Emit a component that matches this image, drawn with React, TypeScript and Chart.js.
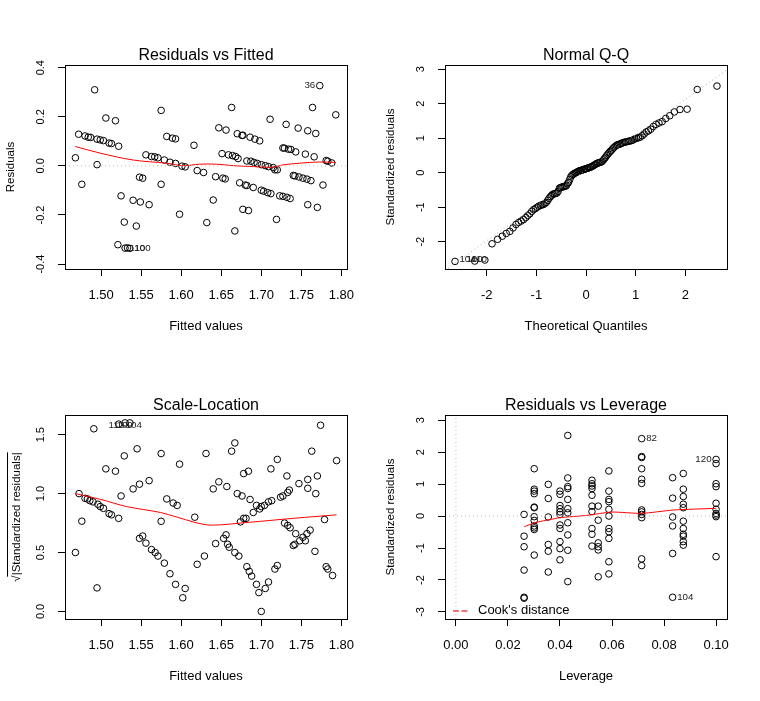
import React, { useEffect, useRef } from "react";
import { Chart, registerables } from "chart.js";

Chart.register(...registerables);

const FONT = '"Liberation Sans", Arial, Helvetica, sans-serif';
Chart.defaults.font.family = FONT;
Chart.defaults.color = "#000";

// ---------- Panel 1: Residuals vs Fitted ----------
const fitted1 = [1.468, 1.472, 1.476, 1.48, 1.484, 1.487, 1.492, 1.495, 1.495, 1.499, 1.503, 1.506, 1.51, 1.513, 1.518, 1.522, 1.521, 1.525, 1.529, 1.53, 1.536, 1.533, 1.54, 1.544, 1.548, 1.549, 1.552, 1.556, 1.56, 1.563, 1.567, 1.571, 1.575, 1.575, 1.579, 1.582, 1.586, 1.589, 1.593, 1.593, 1.598, 1.601, 1.605, 1.616, 1.62, 1.628, 1.632, 1.64, 1.643, 1.647, 1.652, 1.655, 1.651, 1.656, 1.659, 1.663, 1.664, 1.667, 1.668, 1.67, 1.671, 1.673, 1.676, 1.677, 1.677, 1.68, 1.682, 1.684, 1.682, 1.686, 1.687, 1.69, 1.691, 1.692, 1.695, 1.698, 1.7, 1.7, 1.703, 1.705, 1.708, 1.709, 1.711, 1.712, 1.715, 1.719, 1.717, 1.72, 1.723, 1.727, 1.727, 1.729, 1.732, 1.731, 1.734, 1.736, 1.737, 1.74, 1.742, 1.743, 1.746, 1.747, 1.752, 1.755, 1.757, 1.758, 1.758, 1.762, 1.764, 1.766, 1.768, 1.77, 1.773, 1.777, 1.781, 1.783, 1.788, 1.793];
const resid1 = [0.033, 0.129, -0.075, 0.122, 0.117, 0.116, 0.31, 0.109, 0.005, 0.106, 0.103, 0.195, 0.093, 0.091, 0.184, 0.08, -0.321, -0.122, -0.229, -0.335, -0.336, -0.334, -0.14, -0.245, -0.046, -0.147, -0.05, 0.045, -0.158, 0.038, 0.037, 0.033, 0.226, -0.075, 0.024, 0.12, 0.015, 0.113, 0.11, 0.01, -0.197, -0.001, -0.004, 0.084, -0.019, -0.027, -0.231, -0.139, -0.044, 0.155, -0.05, -0.053, 0.05, 0.146, 0.045, 0.238, 0.042, -0.265, 0.038, 0.131, 0.03, -0.069, 0.124, 0.125, -0.177, -0.078, 0.02, -0.182, -0.08, 0.117, 0.019, -0.088, 0.014, 0.109, 0.01, 0.102, -0.099, 0.005, -0.103, 0.001, -0.109, -0.003, 0.19, -0.113, -0.007, -0.218, -0.016, -0.016, -0.122, 0.073, -0.124, 0.072, -0.128, 0.169, 0.068, -0.133, 0.067, -0.039, -0.041, 0.057, 0.154, -0.045, -0.05, 0.048, -0.054, -0.158, 0.143, -0.06, 0.238, 0.037, 0.132, -0.169, 0.327, -0.078, 0.022, 0.019, 0.012, 0.208];
const smoothFit1 = [1.468, 1.499, 1.54, 1.582, 1.603, 1.623, 1.644, 1.665, 1.69, 1.715, 1.727, 1.748, 1.773, 1.793];
const smoothRes1 = [0.079, 0.052, 0.024, 0.011, 0.001, 0.007, 0.007, 0.001, -0.003, -0.005, 0.004, 0.011, 0.016, 0.014];
const zeroLineFit1 = [1.455, 1.807];
const zeroLineRes1 = [0, 0];
const labelText1 = ["36", "110", "100"];
const labelX1 = [1.773, 1.53, 1.536];
const labelY1 = [0.327, -0.335, -0.336];
const labelSide1 = ["left", "right", "right"];

const fittedTicks = [1.5, 1.55, 1.6, 1.65, 1.7, 1.75, 1.8];
const fittedTickLabels = ["1.50", "1.55", "1.60", "1.65", "1.70", "1.75", "1.80"];
const residTicks = [-0.4, -0.2, 0, 0.2, 0.4];
const residTickLabels = ["-0.4", "-0.2", "0.0", "0.2", "0.4"];

// ---------- Panel 2: Normal Q-Q ----------
const theoQuant = [-2.638, -2.241, -2.037, -1.893, -1.78, -1.687, -1.606, -1.534, -1.47, -1.41, -1.356, -1.306, -1.258, -1.213, -1.171, -1.131, -1.092, -1.055, -1.019, -0.984, -0.951, -0.918, -0.887, -0.856, -0.827, -0.798, -0.769, -0.742, -0.714, -0.688, -0.662, -0.636, -0.611, -0.586, -0.561, -0.536, -0.512, -0.489, -0.465, -0.442, -0.419, -0.396, -0.374, -0.351, -0.329, -0.307, -0.285, -0.264, -0.242, -0.221, -0.199, -0.178, -0.157, -0.136, -0.115, -0.094, -0.073, -0.052, -0.031, -0.01, 0.01, 0.031, 0.052, 0.073, 0.094, 0.115, 0.136, 0.157, 0.178, 0.199, 0.221, 0.242, 0.264, 0.285, 0.307, 0.329, 0.351, 0.374, 0.396, 0.419, 0.442, 0.465, 0.489, 0.512, 0.536, 0.561, 0.586, 0.611, 0.636, 0.662, 0.688, 0.714, 0.742, 0.769, 0.798, 0.827, 0.856, 0.887, 0.918, 0.951, 0.984, 1.019, 1.055, 1.092, 1.131, 1.171, 1.213, 1.258, 1.306, 1.356, 1.41, 1.47, 1.534, 1.606, 1.687, 1.78, 1.893, 2.037, 2.241, 2.638];
const stdResSorted = [
  -2.57, -2.56, -2.53, -2.06, -1.93, -1.84, -1.76, -1.7, -1.6, -1.5,
  -1.44, -1.4, -1.36, -1.3, -1.24, -1.19, -1.12, -1.07, -1.04, -1.0,
  -0.97, -0.95, -0.93, -0.92, -0.89, -0.86, -0.8, -0.74, -0.69, -0.65,
  -0.62, -0.61, -0.6, -0.59, -0.54, -0.45, -0.43, -0.42, -0.41, -0.4,
  -0.39, -0.38, -0.32, -0.28, -0.2, -0.12, -0.08, -0.05, -0.03, -0.01,
  0.0, 0.02, 0.04, 0.05, 0.06, 0.07, 0.08, 0.09, 0.1, 0.11,
  0.12, 0.13, 0.14, 0.15, 0.16, 0.18, 0.19, 0.21, 0.23, 0.25,
  0.27, 0.28, 0.29, 0.3, 0.31, 0.33, 0.37, 0.41, 0.45, 0.5,
  0.54, 0.58, 0.62, 0.65, 0.69, 0.73, 0.76, 0.79, 0.81, 0.82,
  0.83, 0.85, 0.87, 0.88, 0.89, 0.9, 0.91, 0.92, 0.93, 0.95,
  0.98, 1.0, 1.01, 1.03, 1.07, 1.12, 1.18, 1.21, 1.26, 1.34,
  1.4, 1.44, 1.48, 1.57, 1.65, 1.76, 1.83, 1.84, 2.41, 2.51,
];
const qqLineX = [-2.84, 2.84];
const qqLineY = [-2.83, 2.98];
const labelText2 = ["104", "100", "110"];
const labelX2 = [-2.64, -2.5, -2.4];
const labelY2 = [-2.52, -2.52, -2.52];
const labelSide2 = ["right", "right", "right"];
const quantTicks = [-2, -1, 0, 1, 2];
const quantTickLabels = ["-2", "-1", "0", "1", "2"];
const stdTicks2 = [-2, -1, 0, 1, 2, 3];
const stdTickLabels2 = ["-2", "-1", "0", "1", "2", "3"];

// ---------- Panel 3: Scale-Location ----------
const fitted3 = [1.468, 1.4725, 1.476, 1.48, 1.483, 1.486, 1.491, 1.49, 1.495, 1.496, 1.499, 1.503, 1.506, 1.51, 1.513, 1.518, 1.522, 1.525, 1.529, 1.522, 1.53, 1.536, 1.54, 1.545, 1.548, 1.548, 1.552, 1.556, 1.56, 1.563, 1.5675, 1.571, 1.575, 1.575, 1.579, 1.582, 1.586, 1.59, 1.595, 1.593, 1.598, 1.602, 1.605, 1.617, 1.62, 1.629, 1.631, 1.64, 1.643, 1.647, 1.653, 1.656, 1.657, 1.658, 1.66, 1.667, 1.663, 1.667, 1.672, 1.67, 1.676, 1.674, 1.678, 1.684, 1.678, 1.681, 1.682, 1.685, 1.688, 1.686, 1.69, 1.694, 1.694, 1.697, 1.698, 1.7, 1.7, 1.704, 1.705, 1.709, 1.709, 1.713, 1.712, 1.717, 1.72, 1.72, 1.724, 1.727, 1.733, 1.735, 1.729, 1.733, 1.736, 1.732, 1.74, 1.742, 1.743, 1.747, 1.748, 1.752, 1.755, 1.757, 1.761, 1.758, 1.758, 1.763, 1.767, 1.768, 1.77, 1.774, 1.779, 1.781, 1.783, 1.789, 1.794];
const sqrtStd3 = [0.5, 1.0, 0.766, 0.96, 0.955, 0.94, 1.55, 0.93, 0.2, 0.91, 0.89, 0.875, 1.21, 0.83, 0.82, 1.19, 0.79, 0.98, 1.32, 1.59, 1.6, 1.6, 1.04, 1.38, 1.08, 0.62, 0.64, 0.58, 1.11, 0.525, 0.5, 0.47, 1.34, 0.765, 0.41, 0.955, 0.32, 0.92, 0.9, 0.23, 1.25, 0.116, 0.195, 0.8, 0.4, 0.47, 1.34, 1.04, 0.576, 1.1, 0.62, 0.65, 1.06, 0.57, 0.545, 0.5, 1.36, 1.43, 0.47, 1.0, 0.98, 0.76, 1.17, 1.19, 0.79, 0.79, 0.38, 0.34, 0.3, 0.95, 0.84, 0.9, 0.23, 0.16, 0.87, 0.89, 0.0, 0.9, 0.195, 0.25, 0.93, 0.94, 1.21, 0.36, 0.39, 1.29, 0.97, 0.98, 1.01, 1.03, 0.75, 0.73, 0.71, 1.15, 0.56, 0.57, 0.66, 1.085, 0.6, 0.63, 0.6, 0.66, 0.69, 1.12, 1.045, 1.36, 0.51, 1.0, 1.15, 1.58, 0.78, 0.38, 0.36, 0.305, 1.28];
const smoothFit3 = [1.468, 1.5, 1.532, 1.574, 1.595, 1.615, 1.632, 1.649, 1.674, 1.699, 1.74, 1.794];
const smoothSqrt3 = [1.0, 0.95, 0.89, 0.84, 0.8, 0.76, 0.735, 0.735, 0.75, 0.765, 0.79, 0.82];
const labelText3 = ["110", "100", "104"];
const labelX3 = [1.5037, 1.5137, 1.525];
const labelY3 = [1.58, 1.58, 1.58];
const labelSide3 = ["right", "right", "right"];
const sqrtTicks = [0, 0.5, 1, 1.5];
const sqrtTickLabels = ["0.0", "0.5", "1.0", "1.5"];

// ---------- Panel 4: Residuals vs Leverage ----------
const leverage4 = [
  0.0262, 0.0262, 0.0262, 0.0262, 0.0262, 0.0262,
  0.0301, 0.0301, 0.0301, 0.0301, 0.0301, 0.0301, 0.0301, 0.0301, 0.0301, 0.0301, 0.0301, 0.0301,
  0.0355, 0.0355, 0.0355, 0.0355, 0.0355, 0.0355,
  0.04, 0.04, 0.04, 0.04, 0.04, 0.04, 0.04, 0.04, 0.04, 0.04, 0.04,
  0.043, 0.043, 0.043, 0.043, 0.043, 0.043, 0.043, 0.043, 0.043, 0.043, 0.043,
  0.0523, 0.0523, 0.0523, 0.0523, 0.0523, 0.0523, 0.0523, 0.0523, 0.0523, 0.0523,
  0.0547, 0.0547, 0.0547, 0.0547, 0.0547, 0.0547,
  0.0588, 0.0588, 0.0588, 0.0588, 0.0588, 0.0588, 0.0588, 0.0588, 0.0588, 0.0588, 0.0588,
  0.0714, 0.0714, 0.0714, 0.0714, 0.0714, 0.0714, 0.0714, 0.0714, 0.0714, 0.0714, 0.0714, 0.0714,
  0.0833, 0.0833, 0.0833, 0.0833, 0.0833, 0.0833,
  0.0874, 0.0874, 0.0874, 0.0874, 0.0874, 0.0874, 0.0874, 0.0874, 0.0874, 0.0874, 0.0874,
  0.1, 0.1, 0.1, 0.1, 0.1, 0.1, 0.1, 0.1, 0.1, 0.1,
];
const stdRes4 = [
  0.05, -0.63, -0.96, -1.69, -2.54, -2.57,
  1.48, 0.84, 0.78, 0.7, 0.28, 0.26, -0.02, -0.14, -0.31, -0.37, -0.42, -1.22,
  0.99, 0.55, -0.03, -0.89, -1.1, -1.75,
  0.78, 0.68, 0.33, 0.23, 0.13, 0.05, -0.28, -0.39, -0.8, -1.02, -1.37,
  2.52, 1.19, 0.92, 0.86, 0.52, 0.23, 0.1, -0.21, -0.59, -1.07, -2.05,
  1.12, 1.01, 0.94, 0.86, 0.65, 0.31, 0.14, -0.39, -0.57, -0.94,
  0.31, -0.13, -0.84, -0.96, -1.06, -1.9,
  1.41, 0.78, 0.52, 0.45, 0.21, 0.0, -0.39, -0.49, -0.7, -1.43, -1.81,
  2.42, 1.86, 1.83, 1.48, 1.15, 1.02, 0.19, 0.13, 0.05, -0.05, -1.34, -1.55,
  1.2, 0.56, -0.03, -0.31, -1.17, -2.54,
  1.33, 0.84, 0.61, 0.37, 0.26, -0.16, -0.39, -0.57, -0.63, -0.8, -0.91,
  1.77, 1.64, 1.01, 0.92, 0.4, 0.21, 0.08, 0.03, -0.02, -1.27,
];
const smoothLev4 = [0.0263, 0.0304, 0.04, 0.0503, 0.0599, 0.0714, 0.0836, 0.1];
const smoothRes4 = [-0.334, -0.209, -0.052, 0.02, 0.125, 0.083, 0.188, 0.24];
const hLineLev4 = [-0.0042, 0.1042];
const hLineRes4 = [0, 0];
const vLineLev4 = [0, 0];
const vLineRes4 = [-3.22, 3.16];
const labelText4 = ["82", "104", "120"];
const labelX4 = [0.0714, 0.0833, 0.1];
const labelY4 = [2.42, -2.54, 1.77];
const labelSide4 = ["right", "right", "left"];
const levTicks = [0, 0.02, 0.04, 0.06, 0.08, 0.1];
const levTickLabels = ["0.00", "0.02", "0.04", "0.06", "0.08", "0.10"];
const stdTicks4 = [-3, -2, -1, 0, 1, 2, 3];
const stdTickLabels4 = ["-3", "-2", "-1", "0", "1", "2", "3"];

// ---------- helpers ----------
const toXY = (xs: number[], ys: number[]) => xs.map((x, i) => ({ x, y: ys[i] }));

const pointsDataset = (xs: number[], ys: number[]) => ({
  data: toXY(xs, ys),
  showLine: false,
  pointStyle: "circle",
  pointRadius: 3.3,
  pointBorderWidth: 1,
  pointBorderColor: "#000",
  pointBackgroundColor: "rgba(0,0,0,0)",
  order: 2,
});
const lineDataset = (xs: number[], ys: number[], color: string, dash: number[] = [], tension = 0) => ({
  data: toXY(xs, ys),
  showLine: true,
  borderColor: color,
  borderWidth: 1,
  borderDash: dash,
  pointRadius: 0,
  tension,
  fill: false,
  order: 1,
});

function measureWidest(labels: string[], size: number) {
  const c = document.createElement("canvas").getContext("2d")!;
  c.font = `${size}px ${FONT}`;
  return Math.max(...labels.map((l) => c.measureText(l).width));
}

type Spec = {
  title: string;
  xTitle: string;
  yTitle: string;
  yTitlePad: number;
  xMin: number;
  xMax: number;
  yMin: number;
  yMax: number;
  xTicks: number[];
  xTickLabels: string[];
  yTicks: number[];
  yTickLabels: string[];
  datasets: any[];
  labelText: string[];
  labelX: number[];
  labelY: number[];
  labelSide: string[];
  cook?: boolean;
  sqrtBar?: boolean;
};

const X_TICK_FONT = 13;
const Y_TICK_FONT = 11;
const Y_TITLE_FONT = 11.5;
const X_AXIS_H = 65.3;
const PLOT_BOTTOM = 269;

function buildConfig(spec: Spec, height: number): any {
  const widest = measureWidest(spec.yTickLabels, Y_TICK_FONT);
  const axisGrid = { drawOnChartArea: false, drawTicks: true, tickLength: 7, color: "#000", lineWidth: 1 };
  const border = { display: true, color: "#000", width: 1 };

  const boxPlugin = {
    id: "rbox",
    afterDraw(chart: any) {
      const { ctx, chartArea: a } = chart;
      ctx.save();
      ctx.strokeStyle = "#000";
      ctx.lineWidth = 1;
      const l = Math.round(a.left) + 0.5;
      const t = Math.round(a.top) + 0.5;
      const r = Math.round(a.right) + 0.5;
      const b = Math.round(a.bottom) + 0.5;
      ctx.strokeRect(l, t, r - l, b - t);
      if (spec.sqrtBar) {
        // overline of the square-root sign in the y-axis title
        ctx.font = `${Y_TITLE_FONT}px ${FONT}`;
        const full = ctx.measureText(spec.yTitle).width;
        const root = ctx.measureText("√").width;
        const cy = (a.top + a.bottom) / 2;
        const anchorX = Y_TITLE_FONT * 0.6 + spec.yTitlePad;
        const bx = Math.round(anchorX - Y_TITLE_FONT * 0.82) + 0.5;
        ctx.beginPath();
        ctx.moveTo(bx, cy + full / 2 - root * 0.78);
        ctx.lineTo(bx, cy - full / 2);
        ctx.stroke();
      }
      ctx.restore();
    },
  };

  const labelPlugin = {
    id: "ptLabels",
    afterDatasetsDraw(chart: any) {
      const { ctx } = chart;
      const xs = chart.scales.x;
      const ys = chart.scales.y;
      ctx.save();
      ctx.font = `9.75px ${FONT}`;
      ctx.fillStyle = "#222";
      ctx.textBaseline = "middle";
      spec.labelText.forEach((t, i) => {
        const px = xs.getPixelForValue(spec.labelX[i]);
        const py = ys.getPixelForValue(spec.labelY[i]);
        if (spec.labelSide[i] === "right") {
          ctx.textAlign = "left";
          ctx.fillText(t, px + 4.5, py);
        } else {
          ctx.textAlign = "right";
          ctx.fillText(t, px - 4.5, py);
        }
      });
      if (spec.cook) {
        const a = chart.chartArea;
        const yy = a.bottom - 8;
        ctx.strokeStyle = "#ee4a4a";
        ctx.lineWidth = 1.4;
        ctx.setLineDash([6, 2.5]);
        ctx.beginPath();
        ctx.moveTo(a.left + 8, yy);
        ctx.lineTo(a.left + 22.5, yy);
        ctx.stroke();
        ctx.setLineDash([]);
        ctx.font = `13px ${FONT}`;
        ctx.fillStyle = "#000";
        ctx.textAlign = "left";
        ctx.fillText("Cook's distance", a.left + 33, a.bottom - 8.5);
      }
      ctx.restore();
    },
  };

  return {
    type: "scatter",
    data: { datasets: spec.datasets },
    options: {
      animation: false,
      responsive: false,
      devicePixelRatio: 1,
      events: [],
      layout: { padding: { left: 0, right: 33, top: 0, bottom: height - PLOT_BOTTOM - X_AXIS_H } },
      plugins: {
        legend: { display: false },
        tooltip: { enabled: false },
        title: {
          display: true,
          text: spec.title,
          fullSize: false,
          color: "#000",
          font: { size: 16, family: FONT, weight: "normal" },
          padding: { top: 45.6, bottom: 0.2 },
        },
      },
      scales: {
        x: {
          type: "linear",
          position: "bottom",
          min: spec.xMin,
          max: spec.xMax,
          afterBuildTicks: (s: any) => {
            s.ticks = spec.xTicks.map((v) => ({ value: v }));
          },
          afterFit: (s: any) => {
            s.height = X_AXIS_H;
          },
          ticks: {
            autoSkip: false,
            minRotation: 0,
            maxRotation: 0,
            color: "#000",
            padding: 11.7,
            font: { size: X_TICK_FONT, family: FONT },
            callback: (_v: any, i: number) => spec.xTickLabels[i],
          },
          grid: axisGrid,
          border,
          title: {
            display: true,
            text: spec.xTitle,
            color: "#000",
            font: { size: 13, family: FONT },
            padding: { top: 0, bottom: 0 },
          },
        },
        y: {
          type: "linear",
          position: "left",
          min: spec.yMin,
          max: spec.yMax,
          afterBuildTicks: (s: any) => {
            s.ticks = spec.yTicks.map((v) => ({ value: v }));
          },
          afterFit: (s: any) => {
            s.width = 65;
          },
          ticks: {
            autoSkip: false,
            minRotation: 90,
            maxRotation: 90,
            crossAlign: "center",
            color: "#000",
            padding: 17 - widest / 2,
            font: { size: Y_TICK_FONT, family: FONT },
            callback: (_v: any, i: number) => spec.yTickLabels[i],
          },
          grid: axisGrid,
          border,
          title: {
            display: true,
            text: spec.yTitle,
            color: "#000",
            font: { size: Y_TITLE_FONT, family: FONT },
            padding: { top: spec.yTitlePad, bottom: 0 },
          },
        },
      },
    },
    plugins: [boxPlugin, labelPlugin],
  };
}

const GRAY = "#bebebe";

const spec1: Spec = {
  title: "Residuals vs Fitted",
  xTitle: "Fitted values",
  yTitle: "Residuals",
  yTitlePad: 4.1,
  xMin: 1.455,
  xMax: 1.807,
  yMin: -0.42,
  yMax: 0.411,
  xTicks: fittedTicks,
  xTickLabels: fittedTickLabels,
  yTicks: residTicks,
  yTickLabels: residTickLabels,
  datasets: [
    pointsDataset(fitted1, resid1),
    lineDataset(zeroLineFit1, zeroLineRes1, GRAY, [1, 3]),
    lineDataset(smoothFit1, smoothRes1, "#ff0000", [], 0.35),
  ],
  labelText: labelText1,
  labelX: labelX1,
  labelY: labelY1,
  labelSide: labelSide1,
};

const spec2: Spec = {
  title: "Normal Q-Q",
  xTitle: "Theoretical Quantiles",
  yTitle: "Standardized residuals",
  yTitlePad: 4.1,
  xMin: -2.84,
  xMax: 2.84,
  yMin: -2.79,
  yMax: 3.12,
  xTicks: quantTicks,
  xTickLabels: quantTickLabels,
  yTicks: stdTicks2,
  yTickLabels: stdTickLabels2,
  datasets: [pointsDataset(theoQuant, stdResSorted), lineDataset(qqLineX, qqLineY, "#a8a8a8", [1, 3])],
  labelText: labelText2,
  labelX: labelX2,
  labelY: labelY2,
  labelSide: labelSide2,
};

const spec3: Spec = {
  title: "Scale-Location",
  xTitle: "Fitted values",
  yTitle: "√|Standardized residuals|",
  yTitlePad: 10,
  xMin: 1.455,
  xMax: 1.807,
  yMin: -0.064,
  yMax: 1.667,
  xTicks: fittedTicks,
  xTickLabels: fittedTickLabels,
  yTicks: sqrtTicks,
  yTickLabels: sqrtTickLabels,
  datasets: [pointsDataset(fitted3, sqrtStd3), lineDataset(smoothFit3, smoothSqrt3, "#ff0000", [], 0.35)],
  labelText: labelText3,
  labelX: labelX3,
  labelY: labelY3,
  labelSide: labelSide3,
  sqrtBar: true,
};

const spec4: Spec = {
  title: "Residuals vs Leverage",
  xTitle: "Leverage",
  yTitle: "Standardized residuals",
  yTitlePad: 4.1,
  xMin: -0.0042,
  xMax: 0.1042,
  yMin: -3.22,
  yMax: 3.16,
  xTicks: levTicks,
  xTickLabels: levTickLabels,
  yTicks: stdTicks4,
  yTickLabels: stdTickLabels4,
  datasets: [
    pointsDataset(leverage4, stdRes4),
    lineDataset(hLineLev4, hLineRes4, GRAY, [1, 3]),
    lineDataset(vLineLev4, vLineRes4, GRAY, [1, 3]),
    lineDataset(smoothLev4, smoothRes4, "#ff0000", [], 0.2),
  ],
  labelText: labelText4,
  labelX: labelX4,
  labelY: labelY4,
  labelSide: labelSide4,
  cook: true,
};

function Panel({ spec, left, top, height }: { spec: Spec; left: number; top: number; height: number }) {
  const ref = useRef<HTMLCanvasElement>(null);
  useEffect(() => {
    const chart = new Chart(ref.current!, buildConfig(spec, height));
    return () => chart.destroy();
  }, [spec, height]);
  return (
    <canvas
      ref={ref}
      width={380}
      height={height}
      style={{ position: "absolute", left, top, width: 380, height, display: "block" }}
    />
  );
}

export default function App() {
  return (
    <div style={{ position: "absolute", left: 0, top: 0, width: 760, height: 701, background: "#fff" }}>
      <Panel spec={spec1} left={0} top={0} height={350} />
      <Panel spec={spec2} left={380} top={0} height={350} />
      <Panel spec={spec3} left={0} top={350} height={351} />
      <Panel spec={spec4} left={380} top={350} height={351} />
    </div>
  );
}
